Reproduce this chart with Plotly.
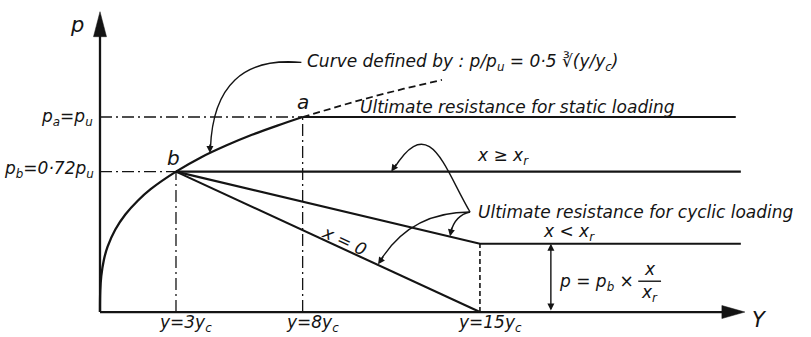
import plotly.graph_objects as go

# Deflection y in units of y_c, soil resistance p in units of p_u
y_marks = [3, 8, 15]
y_mark_labels = ["y=3y<sub>c</sub>", "y=8y<sub>c</sub>", "y=15y<sub>c</sub>"]
p_u = 1.0
p_b = 0.72
p_cyc = 0.35        # residual cyclic resistance for x < x_r
y_right = 25.3      # right end of the resistance lines
y_static_end = 25.1
y_axis_tip = 25.46
p_axis_tip = 1.54

# p/p_u = 0.5 (y/y_c)^(1/3)
curve_y = [0, 0.01, 0.05, 0.15, 0.3, 0.6, 1, 1.5, 2, 3, 4, 5, 6, 7, 8]
curve_p = [0, 0.108, 0.184, 0.266, 0.335, 0.422, 0.5, 0.572, 0.63, 0.72,
           0.794, 0.855, 0.909, 0.956, 1.0]
ext_y = [8, 9, 10, 11, 12, 13.5]
ext_p = [1.0, 1.04, 1.077, 1.112, 1.145, 1.19]

INK = "#141414"
FONT = "DejaVu Sans"
DASHDOT = "12px,4px,2px,4px"

X_RANGE = [-3.948, 28.07]
Y_RANGE = [-0.128, 1.6]
W, H = 811, 337
PX_X = (X_RANGE[1] - X_RANGE[0]) / W   # data units per pixel
PX_Y = (Y_RANGE[1] - Y_RANGE[0]) / H

fig = go.Figure()


def line(xs, ys, width=2.0, dash="solid", shape="linear"):
    fig.add_trace(go.Scatter(x=xs, y=ys, mode="lines",
                             line=dict(color=INK, width=width, dash=dash, shape=shape),
                             hoverinfo="skip"))


def solid_triangle(xs, ys):
    fig.add_trace(go.Scatter(x=xs, y=ys, mode="lines", fill="toself", fillcolor=INK,
                             line=dict(color=INK, width=0.5), hoverinfo="skip"))


# axes with solid arrowheads
line([0, y_axis_tip - 20 * PX_X], [0, 0], width=2.3)
line([0, 0], [0, p_axis_tip - 22 * PX_Y], width=2.3)
solid_triangle([y_axis_tip, y_axis_tip - 23 * PX_X, y_axis_tip - 23 * PX_X, y_axis_tip],
               [0, 6.5 * PX_Y, -6.5 * PX_Y, 0])
solid_triangle([0, -6.5 * PX_X, 6.5 * PX_X, 0],
               [p_axis_tip, p_axis_tip - 25 * PX_Y, p_axis_tip - 25 * PX_Y, p_axis_tip])

# static backbone curve and its dashed continuation
line(curve_y, curve_p, width=2.3, shape="spline")
line(ext_y, ext_p, width=1.8, dash="7px,4px")

# ultimate resistance, static loading
line([0, y_marks[1]], [p_u, p_u], width=1.4, dash=DASHDOT)
line([y_marks[1], y_static_end], [p_u, p_u], width=2.1)

# cyclic loading, x >= x_r
line([0, y_marks[0]], [p_b, p_b], width=1.4, dash=DASHDOT)
line([y_marks[0], y_right], [p_b, p_b], width=2.1)

# cyclic loading, x = 0 and x < x_r
line([y_marks[0], y_marks[2]], [p_b, 0], width=2.1)
line([y_marks[0], y_marks[2], y_right], [p_b, p_cyc, p_cyc], width=2.1)

# reference verticals
line([y_marks[0], y_marks[0]], [0, p_b], width=1.3, dash=DASHDOT)
line([y_marks[1], y_marks[1]], [0, p_u], width=1.3, dash=DASHDOT)
line([y_marks[2], y_marks[2]], [0, p_cyc], width=1.6, dash="5px,3px")

shapes = []
# curved leaders
leader = dict(type="path", xref="x", yref="y", line=dict(color=INK, width=1.4))
shapes.append(dict(leader, path="M 7.25 1.28 L 7.95 1.28 Q 4.5 1.32 4.36 0.84"))
shapes.append(dict(leader, path="M 14.61 0.513 C 13.62 0.728 13.03 1.036 11.6 0.735"))
shapes.append(dict(leader, path="M 14.61 0.513 Q 14.02 0.497 13.85 0.41"))
shapes.append(dict(leader, path="M 14.61 0.513 Q 12.24 0.513 11.05 0.26"))
# fraction bar
shapes.append(dict(type="line", xref="x", yref="y", x0=21.25, x1=22.15, y0=0.158, y1=0.158,
                   line=dict(color=INK, width=1.4)))

fig.update_layout(shapes=shapes)

ann = []


def text(x, y, s, size=17, xanchor="left", yanchor="middle", angle=0, xshift=0):
    ann.append(dict(x=x, y=y, xref="x", yref="y", text=s, showarrow=False,
                    xanchor=xanchor, yanchor=yanchor, textangle=angle, xshift=xshift,
                    font=dict(family=FONT, size=size, color=INK, style="italic")))


def head(x, y, ax, ay, size=1.0):
    ann.append(dict(x=x, y=y, xref="x", yref="y", ax=ax, ay=ay, text="", showarrow=True,
                    arrowhead=2, arrowsize=size, arrowwidth=1.4, arrowcolor=INK, standoff=0))


head(4.34, 0.815, 0, -10)
head(11.5, p_b, 6, -9)
head(13.82, 0.388, 2, -10)
head(10.98, 0.245, 6, -9)

# double-headed dimension arrow
ann.append(dict(x=17.8, y=p_cyc, ax=17.8, ay=0, xref="x", yref="y", axref="x", ayref="y",
                text="", showarrow=True, arrowhead=2, startarrowhead=2, arrowside="end+start",
                arrowsize=1, startarrowsize=1, arrowwidth=1.4, arrowcolor=INK, standoff=0,
                startstandoff=0))

text(-0.91, 1.47, "p", size=21, xanchor="center")
text(26.05, -0.04, "Y", size=21, xanchor="center")
text(-0.2, p_u, "p<sub>a</sub>=p<sub>u</sub>", size=17, xanchor="right")
text(-0.16, p_b + 0.01, "p<sub>b</sub>=0·72p<sub>u</sub>", size=17, xanchor="right")
text(y_marks[0] - 0.1, p_b + 0.07, "b", size=20, xanchor="center")
text(y_marks[1], p_u + 0.075, "a", size=20, xanchor="center")
text(8.1, 1.28, "Curve defined by : p/p<sub>u</sub> = 0·5 ∛(y/y<sub>c</sub>)", size=17)
text(10.2, 1.05, "Ultimate resistance for static loading", size=17)
text(14.8, 0.795, "x ≥ x<sub>r</sub>", size=17)
text(14.85, 0.513, "Ultimate resistance for cyclic loading", size=17)
text(17.4, 0.41, "x < x<sub>r</sub>", size=17)
text(9.67, 0.365, "x = 0", size=17, xanchor="center", angle=25)
text(18.05, 0.15, "p = p<sub>b</sub> ×", size=17)
text(21.7, 0.22, "x", size=17, xanchor="center")
text(21.7, 0.095, "x<sub>r</sub>", size=17, xanchor="center")
for ym, lab in zip(y_marks, y_mark_labels):
    text(ym, -0.058, lab, size=17, xanchor="center", xshift=10)

fig.update_layout(
    annotations=ann,
    width=W, height=H,
    margin=dict(l=0, r=0, t=0, b=0),
    paper_bgcolor="white", plot_bgcolor="white",
    showlegend=False,
    xaxis=dict(visible=False, range=X_RANGE, fixedrange=True),
    yaxis=dict(visible=False, range=Y_RANGE, fixedrange=True),
)

fig.write_html("out.html")
